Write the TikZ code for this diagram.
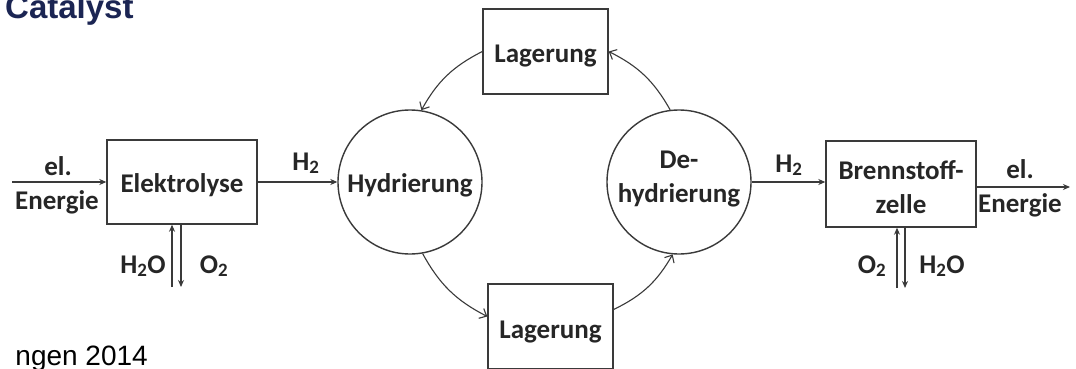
\documentclass[tikz,border=0pt]{standalone}
\usepackage{fontspec}
\setmainfont{Carlito}
\newfontfamily\arialfont{Liberation Sans}
\usetikzlibrary{arrows.meta,calc}
\definecolor{ink}{HTML}{262626}
\definecolor{edge}{HTML}{3A3A3A}
\definecolor{navy}{HTML}{1B2553}
\begin{document}
\begin{tikzpicture}[x=1pt,y=-1pt,
  lbl/.style={font=\fontsize{27}{34}\selectfont\bfseries, text=ink},
  box/.style={lbl, draw=edge, line width=1.4pt, rectangle, inner sep=0pt, text height=20pt, text depth=0pt},
  disc/.style={lbl, draw=edge, line width=1.4pt, circle, minimum size=144pt, inner sep=0pt},
  flow/.style={draw=edge, line width=1.3pt, -{Stealth[length=7pt,width=6pt]}},
  cyc/.style={draw=edge, line width=1.1pt, -{Straight Barb[length=6pt,width=11pt]}, bend right=17},
]
\path[use as bounding box, fill=white] (0,0) rectangle (1076,369);

% main nodes
\node[box, minimum width=150pt, minimum height=84pt] (elek) at (182,182) {Elektrolyse};
\node[disc, text height=20pt, text depth=0pt] (hyd) at (410,182) {Hydrierung};
\node[box, minimum width=125pt, minimum height=85pt, text height=23pt] (lagtop) at (545.5,51.5) {Lagerung};
\node[box, minimum width=125pt, minimum height=85pt, text height=23pt] (lagbot) at (550.5,326.5) {Lagerung};
\node[disc, align=center, text height=40pt, text depth=0pt] (dehyd) at (679,182) {De-\\hydrierung};
\node[box, align=center, minimum width=150pt, minimum height=86pt, text height=58pt, text depth=0pt] (brenn) at (901,184) {Brennstoff-\\zelle};

% labels
\node[lbl, anchor=base] (elin1) at (58,175) {el.};
\node[lbl, anchor=base] (elin2) at (57,209) {Energie};
\node[lbl, anchor=base] (h2a) at (306,170) {H\textsubscript{2}};
\node[lbl, anchor=base] (h2oa) at (143,273) {H\textsubscript{2}O};
\node[lbl, anchor=base] (o2a) at (214,273) {O\textsubscript{2}};
\node[lbl, anchor=base] (h2b) at (789,172) {H\textsubscript{2}};
\node[lbl, anchor=base] (o2b) at (872,273) {O\textsubscript{2}};
\node[lbl, anchor=base] (h2ob) at (942,273) {H\textsubscript{2}O};
\node[lbl, anchor=base] (elout1) at (1020,178) {el.};
\node[lbl, anchor=base] (elout2) at (1020,212) {Energie};

% title and source
\node[font=\arialfont\bfseries\fontsize{33}{36}\selectfont, text=navy, anchor=base west, inner sep=0pt] (title) at (5,19) {Catalyst};
\node[font=\arialfont\fontsize{28}{32}\selectfont, text=black, anchor=base east, inner sep=0pt] (src) at (148,365) {ngen 2014};

% free ends
\coordinate (in1) at (12,182);
\coordinate (out1) at (1070,187);
\coordinate (ea) at (172,287);
\coordinate (eb) at (181,287);
\coordinate (ba) at (897,288);
\coordinate (bb) at (905,288);

% straight flows
\draw[flow] (in1) -- (elek.west);
\draw[flow] (elek.east) -- (hyd.west);
\draw[flow] (dehyd.east) -- (brenn.west |- dehyd.east);
\draw[flow] (brenn.east |- out1) -- (out1);
\draw[flow] (ea) -- (ea |- elek.south);
\draw[flow] (eb |- elek.south) -- (eb);
\draw[flow] (ba) -- (ba |- brenn.south);
\draw[flow] (bb |- brenn.south) -- (bb);

% cycle arcs
\draw[cyc] (lagtop.west) to (hyd.81);
\draw[cyc] (hyd.-80) to ([yshift=10pt]lagbot.west);
\draw[cyc] ([yshift=17pt]lagbot.east) to (dehyd.-95);
\draw[cyc] (dehyd.97) to (lagtop.east);
\end{tikzpicture}
\end{document}
